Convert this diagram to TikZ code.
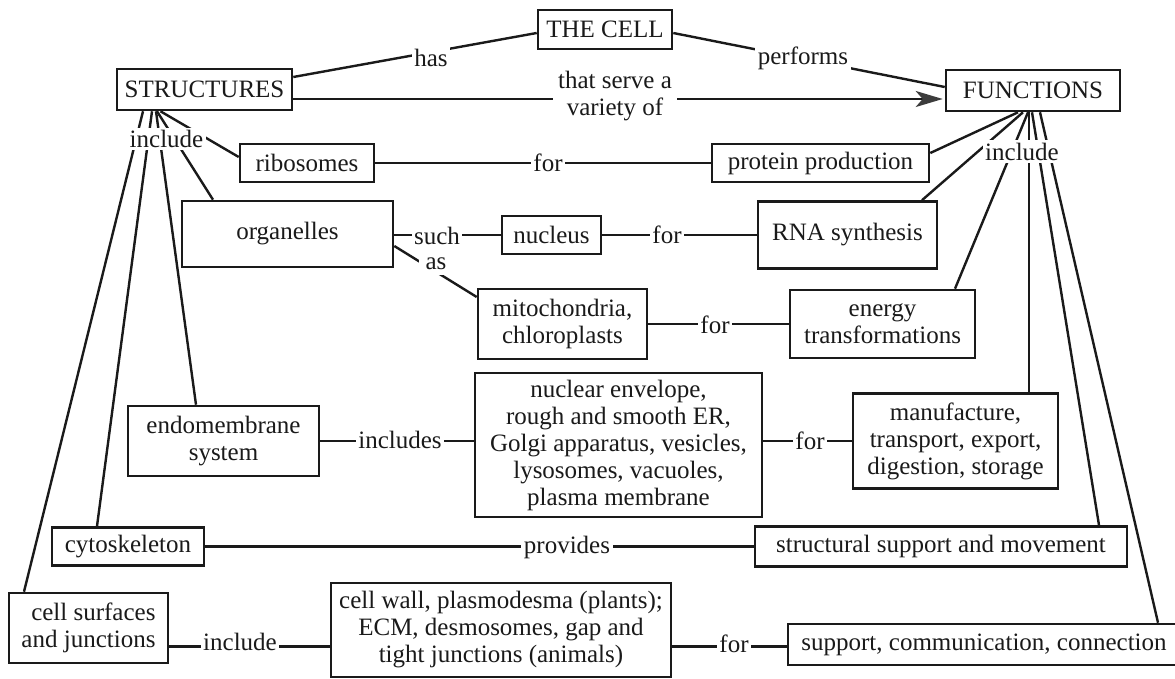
\documentclass[tikz,border=0pt]{standalone}
\usepackage{fontspec}
\setmainfont{Liberation Serif}
\usetikzlibrary{arrows.meta}
\definecolor{ink}{HTML}{1A1A1A}
\definecolor{tipgray}{HTML}{3C3C3C}
\begin{document}
\begin{tikzpicture}[x=1pt,y=-1pt,
  font=\fontsize{25}{27}\selectfont,
  box/.style={draw=ink, line width=2.6pt, inner sep=0pt, align=center, text=ink},
  lbl/.style={fill=white, inner sep=2.5pt, text=ink, align=center},
  conn/.style={draw=ink, line width=2.4pt}]
\fill[white] (0,0) rectangle (1175,679);
\useasboundingbox (0,0) rectangle (1175,679);

% boxes
\node[box, minimum width=134pt, minimum height=39pt] (cell) at (605,29.5) {THE CELL};
\node[box, minimum width=175pt, minimum height=41pt] (struct) at (204.5,89.5) {STRUCTURES};
\node[box, minimum width=174pt, minimum height=41pt] (func) at (1033,90.5) {FUNCTIONS};
\node[box, minimum width=134pt, minimum height=38pt] (ribo) at (307,163) {ribosomes};
\node[box, minimum width=211pt, minimum height=66pt] (organ) at (287.5,234) {organelles};
\node[box, minimum width=99pt, minimum height=38pt] (nucleus) at (551.5,235) {nucleus};
\node[box, minimum width=217pt, minimum height=38pt] (protein) at (820.5,163) {protein production};
\node[box, minimum width=179pt, minimum height=67pt] (rna) at (847.5,235) {RNA synthesis};
\node[box, minimum width=169pt, minimum height=70pt] (mito) at (562.5,324) {mitochondria,\\chloroplasts};
\node[box, minimum width=185pt, minimum height=68pt] (energy) at (882.5,324) {energy\\transformations};
\node[box, minimum width=191pt, minimum height=70pt] (endo) at (223.5,441) {endomembrane\\system};
\node[box, minimum width=287pt, minimum height=144pt] (nuclear) at (618.5,445) {nuclear envelope,\\rough and smooth ER,\\Golgi apparatus, vesicles,\\lysosomes, vacuoles,\\plasma membrane};
\node[box, minimum width=205pt, minimum height=95pt] (manuf) at (955.5,441) {manufacture,\\transport, export,\\digestion, storage};
\node[box, minimum width=152pt, minimum height=38pt] (cyto) at (128,546.5) {cytoskeleton};
\node[box, minimum width=372pt, minimum height=40pt] (ss) at (941,546.5) {structural support and movement};
\node[box, minimum width=159pt, minimum height=70pt, align=right] (surf) at (88.5,628) {cell surfaces\\and junctions};
\node[box, minimum width=340pt, minimum height=94pt] (cellwall) at (501,630) {cell wall, plasmodesma (plants);\\ECM, desmosomes, gap and\\tight junctions (animals)};
\node[box, minimum width=392pt, minimum height=41pt] (support) at (984,644.5) {support, communication, connection};

% top connectors
\draw[conn] ([yshift=12.5pt]struct.east) -- ([yshift=-3.5pt]cell.west);
\draw[conn] ([yshift=-3.5pt]cell.east) -- ([yshift=3.5pt]func.west);
\draw[conn, shorten >=2pt, -{Stealth[length=27pt,width=16pt,inset=7pt,color=tipgray]}]
  ([yshift=-9.5pt]struct.east) -- ([yshift=-8.5pt]func.west);

% structures fan
\draw[conn] ([xshift=-44pt]struct.south) -- ([yshift=6pt]ribo.west);
\draw[conn] ([xshift=-47.5pt]struct.south) -- ([xshift=-74.5pt]organ.north);
\draw[conn] ([xshift=-48.5pt]struct.south) -- ([xshift=-27.5pt]endo.north);
\draw[conn] ([xshift=-52.5pt]struct.south) -- ([xshift=-31pt]cyto.north);
\draw[conn] ([xshift=-61.5pt]struct.south) -- ([xshift=-64.5pt]surf.north);

% functions fan
\draw[conn] ([xshift=-15pt]func.south) -- ([yshift=10pt]protein.east);
\draw[conn] ([xshift=-10pt]func.south) -- ([xshift=74.5pt]rna.north);
\draw[conn] ([xshift=-5pt]func.south) -- ([xshift=72.5pt]energy.north);
\draw[conn] ([xshift=-4pt]func.south) -- ([xshift=73.5pt]manuf.north);
\draw[conn] ([xshift=-1pt]func.south) -- ([xshift=158pt]ss.north);
\draw[conn] ([xshift=7pt]func.south) -- ([xshift=174pt]support.north);

% rows
\draw[conn] (ribo) -- (protein);
\draw[conn] ([yshift=-1pt]organ.east) -- (nucleus);
\draw[conn] (nucleus) -- (rna);
\draw[conn] ([yshift=-12pt]organ.east) -- ([yshift=27pt]mito.west);
\draw[conn] (mito) -- (energy);
\draw[conn] (endo) -- ([yshift=4pt]nuclear.west);
\draw[conn] ([yshift=4pt]nuclear.east) -- (manuf);
\draw[conn] (cyto) -- (ss);
\draw[conn] ([yshift=-18.5pt]surf.east) -- ([yshift=-16.5pt]cellwall.west);
\draw[conn] ([yshift=-16.5pt]cellwall.east) -- ([yshift=-2pt]support.west);

% labels
\node[lbl] (has) at (431,57.5) {has};
\node[lbl] (performs) at (803,58) {performs};
\node[lbl, inner xsep=5pt, inner ysep=1pt] (serve) at (615,96) {that serve a\\variety of};
\node[lbl] (inc1) at (166.5,139) {include};
\node[lbl] (inc2) at (1022,151.5) {include};
\node[lbl] (for1) at (548,163) {for};
\node[lbl] (such) at (437,235.5) {such};
\node[lbl, inner xsep=7pt, inner ysep=5pt] (as) at (436,263.5) {as};
\node[lbl] (for2) at (667,235) {for};
\node[lbl] (for3) at (715,325) {for};
\node[lbl] (includes) at (400,440) {includes};
\node[lbl] (for4) at (810,441) {for};
\node[lbl] (provides) at (567,547.5) {provides};
\node[lbl] (inc3) at (240,641.5) {include};
\node[lbl] (for5) at (734,643.5) {for};
\end{tikzpicture}
\end{document}
